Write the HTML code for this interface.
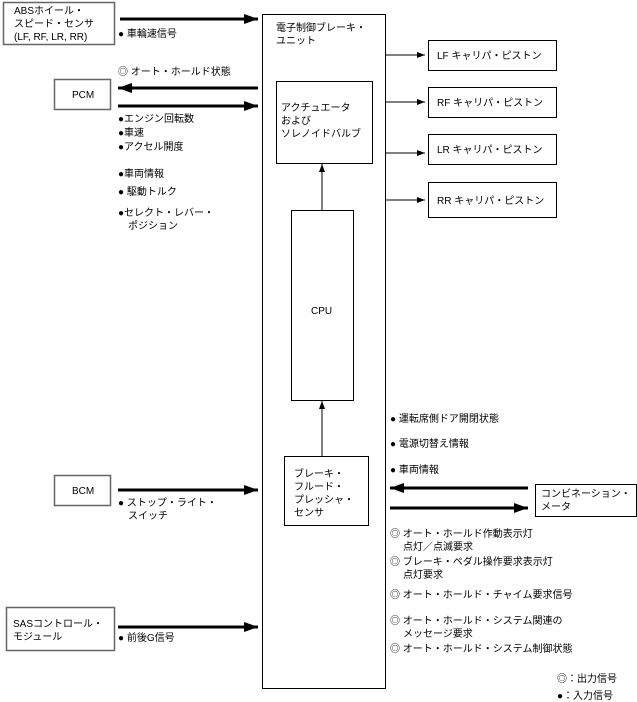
<!DOCTYPE html><html><head><meta charset="utf-8"><style>body{margin:0;background:#fff}svg{display:block}text{font-family:"Liberation Sans","Noto Sans CJK JP",sans-serif;font-size:10px;fill:#000}</style></head><body>
<svg width="637" height="702" viewBox="0 0 637 702">
<defs>
<marker id="t" markerWidth="8" markerHeight="6" refX="8" refY="3" orient="auto" markerUnits="userSpaceOnUse"><path d="M0,0L8,3L0,6z"/></marker>
<marker id="b" markerWidth="14" markerHeight="10" refX="14" refY="5" orient="auto" markerUnits="userSpaceOnUse"><path d="M0,0L14,5L0,10z"/></marker>
</defs>
<g fill="none" stroke="#000">
<rect x="262.5" y="14.5" width="123" height="674"/>
<rect x="3.5" y="2.5" width="111" height="42" stroke="#666" stroke-width="1.5"/>
<rect x="54.5" y="79.5" width="56" height="30" stroke="#666" stroke-width="1.5"/>
<rect x="276.5" y="81.5" width="96" height="82"/>
<rect x="291.5" y="210.5" width="62" height="190"/>
<rect x="284.5" y="456.5" width="84" height="69"/>
<rect x="54.5" y="475.5" width="56" height="30" stroke="#666" stroke-width="1.5"/>
<rect x="6.5" y="607.5" width="108" height="43" stroke="#666" stroke-width="1.5"/>
<rect x="428.5" y="40.5" width="128" height="30"/>
<rect x="428.5" y="87.5" width="128" height="30"/>
<rect x="428.5" y="134.5" width="128" height="30"/>
<rect x="428.5" y="182.5" width="128" height="35"/>
<rect x="535.5" y="484.5" width="101" height="32"/>
<g stroke-width="3">
<line x1="120" y1="19" x2="258" y2="19" marker-end="url(#b)"/>
<line x1="258" y1="88" x2="118" y2="88" marker-end="url(#b)"/>
<line x1="118" y1="106" x2="258" y2="106" marker-end="url(#b)"/>
<line x1="118" y1="490" x2="258" y2="490" marker-end="url(#b)"/>
<line x1="118" y1="627" x2="258" y2="627" marker-end="url(#b)"/>
<line x1="528" y1="488" x2="390" y2="488" marker-end="url(#b)"/>
<line x1="390" y1="508" x2="528" y2="508" marker-end="url(#b)"/>
</g>
<line x1="386" y1="55" x2="425" y2="55" marker-end="url(#t)"/>
<line x1="386" y1="102" x2="425" y2="102" marker-end="url(#t)"/>
<line x1="386" y1="153" x2="425" y2="153" marker-end="url(#t)"/>
<line x1="386" y1="200" x2="425" y2="200" marker-end="url(#t)"/>
<line x1="322" y1="210" x2="322" y2="164" marker-end="url(#t)"/>
<line x1="322" y1="456" x2="322" y2="401" marker-end="url(#t)"/>
</g>
<text x="14" y="14">ABSホイール・</text><text x="14" y="27">スピード・センサ</text><text x="14" y="40">(LF, RF, LR, RR)</text>
<text x="118" y="37">● 車輪速信号</text>
<text x="118" y="75">◎ オート・ホールド状態</text>
<text x="72" y="98">PCM</text>
<text x="118" y="122">●エンジン回転数</text><text x="118" y="136">●車速</text><text x="118" y="150">●アクセル開度</text>
<text x="118" y="177">●車両情報</text><text x="118" y="195">● 駆動トルク</text>
<text x="118" y="216">●セレクト・レバー・</text><text x="128" y="229">ポジション</text>
<text x="276" y="31">電子制御ブレーキ・</text><text x="276" y="44">ユニット</text>
<text x="281" y="111">アクチュエータ</text><text x="281" y="124">および</text><text x="281" y="137">ソレノイドバルブ</text>
<text x="311" y="314">CPU</text>
<text x="294" y="477">ブレーキ・</text><text x="294" y="490">フルード・</text><text x="294" y="503">プレッシャ・</text><text x="294" y="516">センサ</text>
<text x="72" y="494">BCM</text>
<text x="118" y="506">● ストップ・ライト・</text><text x="128" y="519">スイッチ</text>
<text x="13" y="627">SASコントロール・</text><text x="13" y="640">モジュール</text>
<text x="118" y="641">● 前後G信号</text>
<text x="437" y="59">LF キャリパ・ピストン</text><text x="437" y="106">RF キャリパ・ピストン</text><text x="437" y="153">LR キャリパ・ピストン</text><text x="437" y="204">RR キャリパ・ピストン</text>
<text x="390" y="422">● 運転席側ドア開閉状態</text><text x="390" y="447">● 電源切替え情報</text><text x="390" y="473">● 車両情報</text>
<text x="541" y="497">コンビネーション・</text><text x="541" y="510">メータ</text>
<text x="390" y="537">◎ オート・ホールド作動表示灯</text><text x="403" y="550">点灯／点滅要求</text>
<text x="390" y="565">◎ ブレーキ・ペダル操作要求表示灯</text><text x="403" y="578">点灯要求</text>
<text x="390" y="598">◎ オート・ホールド・チャイム要求信号</text>
<text x="390" y="624">◎ オート・ホールド・システム関連の</text><text x="403" y="637">メッセージ要求</text>
<text x="390" y="652">◎ オート・ホールド・システム制御状態</text>
<text x="557" y="682">◎：出力信号</text><text x="557" y="699">●：入力信号</text>
</svg></body></html>
